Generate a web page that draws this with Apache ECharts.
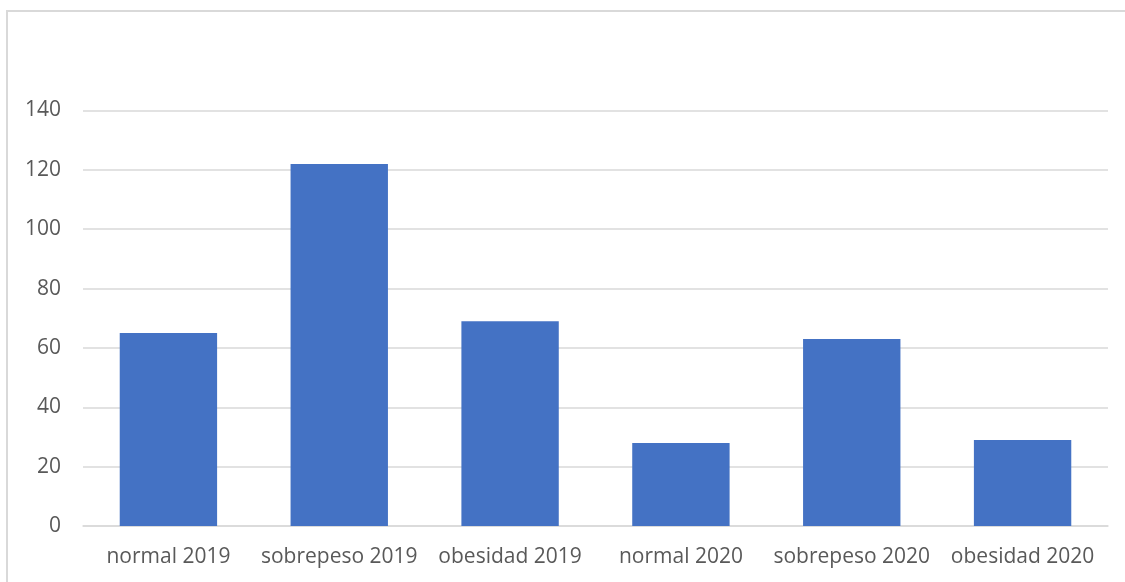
<!DOCTYPE html>
<html>
<head>
<meta charset="utf-8">
<script src="https://cdn.jsdelivr.net/npm/echarts@6/dist/echarts.min.js"></script>
<style>
  html, body { margin: 0; padding: 0; background: #ffffff; }
  #chart { width: 1125px; height: 582px; }
</style>
</head>
<body>
<div id="chart"></div>
<script>
// Categories and counts per weight group and year
const categories = ['normal 2019', 'sobrepeso 2019', 'obesidad 2019', 'normal 2020', 'sobrepeso 2020', 'obesidad 2020'];
const counts = [65, 122, 69, 28, 63, 29];

const yMin = 0;
const yMax = 140;
const yStep = 20;

const textColor = '#595959';
const lineColor = '#d9d9d9';
const fontFamily = '"Open Sans", "Liberation Sans", sans-serif';

const chart = echarts.init(document.getElementById('chart'), null, { renderer: 'canvas' });

chart.setOption({
  animation: false,
  backgroundColor: '#ffffff',
  graphic: [{
    type: 'rect',
    shape: { x: 7, y: 11, width: 1140, height: 600 },
    style: { fill: 'none', stroke: lineColor, lineWidth: 2 },
    silent: true
  }],
  grid: { left: 83, right: 17, top: 110.5, bottom: 56, containLabel: false },
  xAxis: {
    type: 'category',
    data: categories,
    axisLine: { show: true, lineStyle: { color: lineColor, width: 1.5 } },
    axisTick: { show: false },
    axisLabel: { color: textColor, fontSize: 21, fontFamily: fontFamily, margin: 21, interval: 0 }
  },
  yAxis: {
    type: 'value',
    min: yMin,
    max: yMax,
    interval: yStep,
    axisLine: { show: false },
    axisTick: { show: false },
    splitLine: { lineStyle: { color: lineColor, width: 1.5 } },
    axisLabel: { color: textColor, fontSize: 21, fontFamily: fontFamily, margin: 22 }
  },
  series: [{
    type: 'bar',
    data: counts,
    barWidth: '57%',
    itemStyle: { color: '#4472c4' }
  }]
});
</script>
</body>
</html>
